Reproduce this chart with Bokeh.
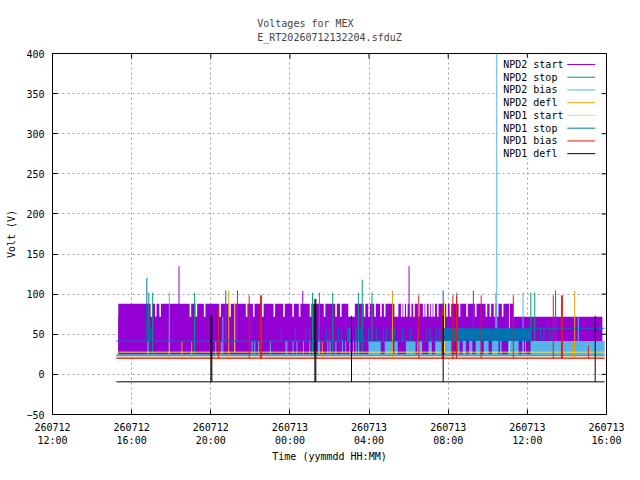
from bokeh.plotting import figure
from bokeh.models import Range1d, FixedTicker
from bokeh.core.properties import value
from bokeh.embed import file_html
from bokeh.resources import INLINE

FONT = "DejaVu Sans Mono"

# ---------------- data (time in hours since 260712 00:00, volts) ----------------
series_names = ["NPD2 start", "NPD2 stop", "NPD2 bias", "NPD2 defl",
                "NPD1 start", "NPD1 stop", "NPD1 bias", "NPD1 defl"]
series_colors = ["#9400d3", "#009e73", "#56b4e9", "#e69f00",
                 "#f0e442", "#0072b2", "#e51e10", "#000000"]

x_ticks = [12, 16, 20, 24, 28, 32, 36, 40]
x_tick_labels = ["260712\n12:00", "260712\n16:00", "260712\n20:00", "260713\n00:00",
                 "260713\n04:00", "260713\n08:00", "260713\n12:00", "260713\n16:00"]
y_ticks = [-50, 0, 50, 100, 150, 200, 250, 300, 350, 400]

t_first, t_last = 15.227, 39.906

# NPD2 start: dense oscillation, envelope
npd2_start_low = 24.5
npd2_start_mid = 72.0
npd2_start_high = 88.0
npd2_start_t0, npd2_start_t1 = 15.325, 39.793
npd2_start_high_end = 35.276
npd2_start_gap_start = [16.96, 17.18, 17.40, 18.93, 19.23, 19.65, 20.43, 20.93, 21.77, 22.13,
                        22.59, 23.17, 23.66, 24.12, 24.45, 25.00, 25.71, 26.29, 26.53, 26.95,
                        27.73, 27.96, 28.26, 28.56, 28.75, 29.28, 29.61, 29.73, 29.87, 30.06,
                        30.23, 30.47, 30.72, 30.84, 31.01, 31.13, 31.25, 31.43, 31.90, 32.07,
                        32.53, 32.91, 33.35, 33.89, 34.09, 34.30, 34.46, 34.71]
npd2_start_gap_end = [17.04, 17.26, 17.48, 19.01, 19.31, 19.73, 20.51, 21.01, 21.85, 22.21,
                      22.67, 23.25, 23.74, 24.20, 24.53, 25.08, 25.79, 26.37, 26.61, 27.28,
                      27.81, 28.04, 28.34, 28.64, 28.83, 29.48, 29.69, 29.81, 29.95, 30.14,
                      30.31, 30.55, 30.80, 30.92, 31.09, 31.21, 31.33, 31.51, 31.98, 32.15,
                      32.61, 32.99, 33.43, 33.97, 34.17, 34.38, 34.54, 34.79]
npd2_start_spike_t = [18.394, 24.650, 30.020]
npd2_start_spike_v = [135.0, 104.0, 135.0]

# NPD2 stop
npd2_stop_base = 23.3
npd2_stop_spike_t = [16.867, 17.064, 19.182, 25.143, 25.488, 26.163, 27.458, 27.655,
                     28.148, 32.433, 36.177, 36.374]
npd2_stop_spike_v = [102, 102, 102, 102, 102, 102, 102, 118, 102, 102, 102, 102]

# NPD2 bias
npd2_bias_base = 24.5
npd2_bias_upper = 41.5
npd2_bias_seg_start = [27.97, 28.79, 29.28, 29.86, 30.43, 31.01, 31.34, 31.83, 32.48, 32.73,
                       33.06, 33.39, 33.80, 34.21, 34.62, 35.03, 35.75, 35.88, 36.18]
npd2_bias_seg_end = [28.59, 29.20, 29.45, 30.35, 30.68, 31.17, 31.67, 32.16, 32.57, 32.90,
                     33.22, 33.64, 34.04, 34.54, 34.70, 35.56, 35.82, 35.93, 39.906]
npd2_bias_bar_t = [16.818, 20.251, 20.532, 22.089, 22.222, 22.419, 23.010, 23.798, 23.847,
                   24.158, 24.355, 24.685, 25.005, 25.448, 25.498, 25.916, 26.030, 26.325,
                   26.655, 26.818, 27.212, 27.345, 27.478]
npd2_bias_spike_t = [17.901, 20.611, 27.025, 34.404, 34.453, 35.783, 38.576]
npd2_bias_spike_v = [102, 72, 57.5, 102, 400, 102, 72]

# NPD2 defl
npd2_defl_base = 21.3
npd2_defl_spike_t = [17.901, 18.542, 19.034, 20.906, 25.635, 29.182, 38.266, 38.394]
npd2_defl_spike_v = [41, 41, 41, 104, 41, 104, 41, 104]

# NPD1 start
npd1_start_base = 27.7
npd1_start_spike_t = [21.212, 31.813, 35.094]
npd1_start_spike_v = [91, 91, 91]

# NPD1 stop
npd1_stop_base_before = 41.5
npd1_stop_base_after = 57.5
npd1_stop_block_t0, npd1_stop_block_t1 = 31.744, 36.177
npd1_stop_bar_t = [16.966, 23.567, 24.276, 24.798, 24.980, 25.473, 25.833, 26.000, 26.458,
                   26.621, 26.901, 26.951, 27.000, 27.345, 27.557, 27.675, 27.971, 28.379,
                   28.709, 28.872, 29.118, 29.281, 29.695, 30.103, 30.463, 30.926, 31.089,
                   31.419, 31.581, 36.67, 36.84, 37.16]
npd1_stop_spike_t = [16.768, 20.759, 21.350, 31.744, 33.271, 37.429]
npd1_stop_spike_v = [120.4, 104.7, 104.7, 104.7, 104.7, 104.7]

# NPD1 bias
npd1_bias_base = 20.0
npd1_bias_spike_t = [20.384, 21.941, 22.517, 22.566, 30.512, 31.695, 32.236, 32.419,
                     33.665, 35.291, 37.310, 37.724, 37.773, 39.084]
npd1_bias_spike_v = [83, 98.6, 98.6, 98.6, 98.6, 83, 98.6, 98.6,
                     98.6, 98.6, 98.6, 98.6, 98.6, 36]

# NPD1 defl
npd1_defl_base = -9.3
npd1_defl_spike_t = [20.005, 20.054, 25.261, 25.310, 27.113, 31.744, 39.429]
npd1_defl_spike_v = [73, 73, 94, 94, 73, 73, 73]

# ---------------- figure ----------------
W, H = 624, 464
B_LEFT, B_RIGHT, B_TOP, B_BOTTOM = 52, 18, 53, 48
X0, X1, Y0, Y1 = 12, 40, -50, 400
TICK = 5

p = figure(width=W, height=H, output_backend="svg", toolbar_location=None,
           x_range=Range1d(X0, X1), y_range=Range1d(Y0, Y1),
           min_border_left=B_LEFT, min_border_right=B_RIGHT,
           min_border_top=B_TOP, min_border_bottom=B_BOTTOM)
p.background_fill_color = "white"
p.border_fill_color = "white"
p.outline_line_color = "black"
p.outline_line_width = 1

p.title.text = "Voltages for MEX\nE_RT20260712132204.sfduZ"
p.title.align = "center"
p.title.vertical_align = "top"
p.title.text_font = FONT
p.title.text_font_size = "10px"
p.title.text_font_style = "normal"
p.title.text_line_height = 1.3
p.title.standoff = 18

for ax in p.xaxis:
    ax.ticker = FixedTicker(ticks=x_ticks)
    ax.major_label_overrides = {t: lab for t, lab in zip(x_ticks, x_tick_labels)}
    ax.axis_label = "Time (yymmdd HH:MM)"
    ax.axis_label_standoff = 2
    ax.major_label_standoff = 7
for ax in p.yaxis:
    ax.ticker = FixedTicker(ticks=y_ticks)
    ax.axis_label = "Volt (V)"
    ax.axis_label_standoff = 6
    ax.major_label_standoff = 8
for ax in list(p.xaxis) + list(p.yaxis):
    ax.axis_line_color = "black"
    ax.major_tick_line_color = "black"
    ax.major_tick_in = TICK
    ax.major_tick_out = 0
    ax.minor_tick_line_color = None
    ax.major_label_text_font = FONT
    ax.major_label_text_font_size = "10px"
    ax.major_label_text_color = "black"
    ax.axis_label_text_font = FONT
    ax.axis_label_text_font_size = "10px"
    ax.axis_label_text_font_style = "normal"
    ax.axis_label_text_color = "black"

p.xgrid.ticker = FixedTicker(ticks=x_ticks)
p.ygrid.ticker = FixedTicker(ticks=y_ticks)
for g in (p.xgrid, p.ygrid):
    g.grid_line_color = "#a0a0a0"
    g.grid_line_dash = "2 3"
    g.grid_line_width = 1

c = dict(zip(series_names, series_colors))


def spikes(ts, vs, base, color):
    p.segment(x0=ts, x1=ts, y0=[base] * len(ts), y1=vs, line_color=color, line_width=1)


# NPD2 start
col = c["NPD2 start"]
p.quad(left=[npd2_start_t0], right=[npd2_start_t1], bottom=[npd2_start_low], top=[npd2_start_mid],
       fill_color=col, line_color=None)
edges = [npd2_start_t0]
for a, b in zip(npd2_start_gap_start, npd2_start_gap_end):
    edges += [a, b]
edges.append(npd2_start_high_end)
top_l, top_r = edges[0::2], edges[1::2]
p.quad(left=top_l, right=top_r, bottom=[npd2_start_low] * len(top_l),
       top=[npd2_start_high] * len(top_l), fill_color=col, line_color=None)
spikes(npd2_start_spike_t, npd2_start_spike_v, npd2_start_high, col)

# NPD2 stop
col = c["NPD2 stop"]
p.line([t_first, t_last], [npd2_stop_base, npd2_stop_base], line_color=col, line_width=1)
spikes(npd2_stop_spike_t, npd2_stop_spike_v, npd2_stop_base, col)

# NPD2 bias
col = c["NPD2 bias"]
p.quad(left=npd2_bias_seg_start, right=npd2_bias_seg_end,
       bottom=[npd2_bias_base] * len(npd2_bias_seg_start),
       top=[npd2_bias_upper] * len(npd2_bias_seg_start), fill_color=col, line_color=None)
spikes(npd2_bias_bar_t, [npd2_bias_upper] * len(npd2_bias_bar_t), npd2_bias_base, col)
p.line([t_first, t_last], [npd2_bias_base, npd2_bias_base], line_color=col, line_width=1)
spikes(npd2_bias_spike_t, npd2_bias_spike_v, npd2_bias_base, col)

# NPD2 defl
col = c["NPD2 defl"]
p.line([t_first, t_last], [npd2_defl_base, npd2_defl_base], line_color=col, line_width=1)
spikes(npd2_defl_spike_t, npd2_defl_spike_v, npd2_defl_base, col)

# NPD1 start
col = c["NPD1 start"]
p.line([t_first, t_last], [npd1_start_base, npd1_start_base], line_color=col, line_width=1)
spikes(npd1_start_spike_t, npd1_start_spike_v, npd1_start_base, col)

# NPD1 stop
col = c["NPD1 stop"]
p.quad(left=[npd1_stop_block_t0], right=[npd1_stop_block_t1], bottom=[npd1_stop_base_before],
       top=[npd1_stop_base_after], fill_color=col, line_color=None)
p.line([t_first, npd1_stop_block_t0], [npd1_stop_base_before] * 2, line_color=col, line_width=1)
p.line([npd1_stop_block_t1, t_last], [npd1_stop_base_after] * 2, line_color=col, line_width=1)
spikes(npd1_stop_bar_t, [npd1_stop_base_after] * len(npd1_stop_bar_t), npd1_stop_base_before, col)
spikes(npd1_stop_spike_t, npd1_stop_spike_v, npd1_stop_base_before, col)

# NPD1 bias
col = c["NPD1 bias"]
p.line([t_first, t_last], [npd1_bias_base, npd1_bias_base], line_color=col, line_width=1)
spikes(npd1_bias_spike_t, npd1_bias_spike_v, npd1_bias_base, col)

# NPD1 defl
col = c["NPD1 defl"]
p.line([t_first, t_last], [npd1_defl_base, npd1_defl_base], line_color=col, line_width=1)
spikes(npd1_defl_spike_t, npd1_defl_spike_v, npd1_defl_base, col)

# ---------------- mirrored ticks on top and right border (gnuplot style) ----------------
px_per_x = (W - B_LEFT - B_RIGHT) / (X1 - X0)
px_per_y = (H - B_TOP - B_BOTTOM) / (Y1 - Y0)
dx, dy = TICK / px_per_x, TICK / px_per_y
p.segment(x0=x_ticks, x1=x_ticks, y0=[Y1 - dy] * len(x_ticks), y1=[Y1] * len(x_ticks),
          line_color="black", line_width=1)

# ---------------- key (gnuplot style: text then sample) ----------------
key_left, key_right, key_top, key_bottom = 34.51, 39.86, 394.7, 269.0
key_text_x = 34.78
key_line_x0, key_line_x1 = 38.02, 39.43
key_row0, key_row_step = 386.3, 15.88
rows = [key_row0 - i * key_row_step for i in range(len(series_names))]
p.quad(left=[key_left], right=[key_right], bottom=[key_bottom], top=[key_top],
       fill_color="white", line_color=None)
p.text(x=[key_text_x] * len(rows), y=rows, text=series_names, text_font=value(FONT),
       text_font_size="10px", text_baseline="middle", text_align="left", text_color="black")
p.segment(x0=[key_line_x0] * len(rows), x1=[key_line_x1] * len(rows), y0=rows, y1=rows,
          line_color=series_colors, line_width=1)
# right-border ticks, drawn last so the key background does not hide them
p.segment(x0=[X1 - dx] * len(y_ticks), x1=[X1] * len(y_ticks), y0=y_ticks, y1=y_ticks,
          line_color="black", line_width=1)

open("out.html", "w").write(file_html(p, INLINE))
